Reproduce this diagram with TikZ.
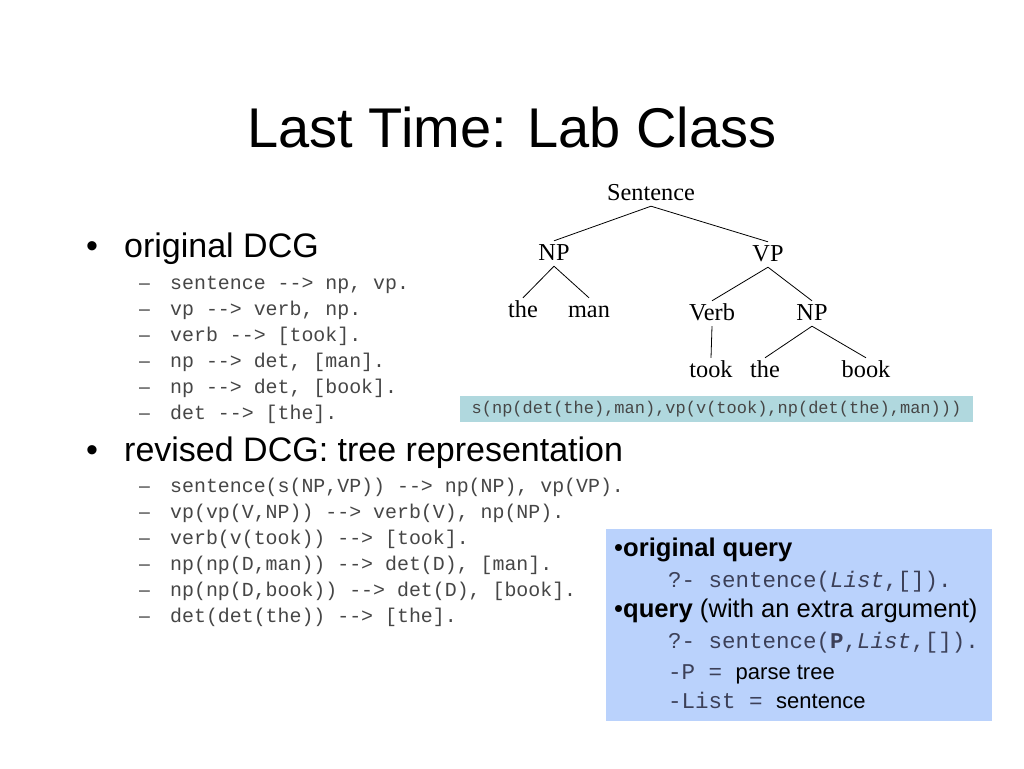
\documentclass[tikz,border=0pt]{standalone}
\usepackage{fontspec}
\setmainfont{Liberation Sans}
\newfontfamily\treefont{Liberation Serif}
\newfontfamily\codefont{Liberation Mono}
\definecolor{tealbox}{RGB}{176,216,222}
\definecolor{querybox}{RGB}{186,210,252}
\definecolor{codegray}{RGB}{70,70,70}
\definecolor{codeblue}{RGB}{60,64,88}

\begin{document}
\begin{tikzpicture}[x=1pt,y=-1pt]
    \fill[white] (0,0) rectangle (1024,768);
    \useasboundingbox (0,0) rectangle (1024,768);
    \tikzset{title/.style = {
        anchor=base,
        inner sep=0pt,
        font=\fontsize{56}{60}\selectfont } }
    \tikzset{bigtext/.style = {
        anchor=base west,
        inner sep=0pt,
        font=\fontsize{34}{40}\selectfont } }
    \tikzset{dashmark/.style = {
        anchor=base west,
        inner sep=0pt,
        text=codegray,
        font=\fontsize{19.5}{22}\selectfont } }
    \tikzset{codeline/.style = {
        anchor=base west,
        inner sep=0pt,
        text=codegray,
        font=\codefont\fontsize{19.9}{22}\selectfont } }
    \tikzset{tnode/.style = {
        anchor=base,
        inner sep=2pt,
        text height=17pt,
        text depth=4pt,
        font=\treefont\fontsize{24.3}{28}\selectfont } }
    \tikzset{tedge/.style = {
        draw=black,
        line width=0.8pt} }
    \tikzset{parsebox/.style = {
        fill=tealbox,
        inner sep=0pt,
        minimum width=513pt,
        minimum height=26pt,
        text=codegray,
        font=\codefont\fontsize{17}{20}\selectfont } }
    \tikzset{qbox/.style = {
        fill=querybox,
        inner sep=0pt,
        minimum width=386pt,
        minimum height=192pt } }
    \tikzset{qline/.style = {
        anchor=base west,
        inner sep=0pt,
        font=\fontsize{25.6}{30}\selectfont } }
    \tikzset{qcode/.style = {
        anchor=base west,
        inner sep=0pt,
        text=codeblue,
        font=\codefont\fontsize{22.5}{26}\selectfont } }

    % title
    \node[title] (title) at (512,147) {Last Time: Lab Class};

    % original DCG
    \node[bigtext] (b1) at (86,257) {\textbullet};
    \node[bigtext] (orig) at (124,257) {original DCG};
    \foreach \y/\t [count=\i] in {289/{sentence -{}-> np, vp.},
                                  315/{vp -{}-> verb, np.},
                                  341/{verb -{}-> [took].},
                                  367/{np -{}-> det, [man].},
                                  393/{np -{}-> det, [book].},
                                  419/{det -{}-> [the].}}{
        \node[dashmark] (od\i) at (139,\y) {–};
        \node[codeline] (oc\i) at (170,\y) {\t};
    }

    % revised DCG
    \node[bigtext] (b2) at (86,461) {\textbullet};
    \node[bigtext] (rev) at (124,461) {revised DCG: tree representation};
    \foreach \y/\t [count=\i] in {492/{sentence(s(NP,VP)) -{}-> np(NP), vp(VP).},
                                  518/{vp(vp(V,NP)) -{}-> verb(V), np(NP).},
                                  544/{verb(v(took)) -{}-> [took].},
                                  570/{np(np(D,man)) -{}-> det(D), [man].},
                                  596/{np(np(D,book)) -{}-> det(D), [book].},
                                  622/{det(det(the)) -{}-> [the].}}{
        \node[dashmark] (rd\i) at (139,\y) {–};
        \node[codeline] (rc\i) at (170,\y) {\t};
    }

    % parse tree
    \node[tnode] (sent) at (651,200) {Sentence};
    \node[tnode] (np) at (554,260) {NP};
    \node[tnode] (vp) at (768,261) {VP};
    \node[tnode] (the) at (523,317) {the};
    \node[tnode] (man) at (589,317) {man};
    \node[tnode] (verb) at (712,320) {Verb};
    \node[tnode] (npb) at (812,320) {NP};
    \node[tnode] (took) at (711,377) {took};
    \node[tnode] (theb) at (765,377) {the};
    \node[tnode] (book) at (866,377) {book};
    \foreach \a/\b in {sent/np, sent/vp, np/the, np/man, vp/verb, vp/npb, verb/took, npb/theb, npb/book}{
        \path[tedge] (\a.south) edge (\b.north);
    }
    \node[parsebox] (parse) at (716.5,409) {s(np(det(the),man),vp(v(took),np(det(the),man)))};

    % queries
    \node[qbox] (query) at (799,625) {};
    \node[qline] (q1) at (614,556) {\textbullet\textbf{original query}};
    \node[qcode] (q2) at (668,587) {?- sentence(\textit{List},[]).};
    \node[qline] (q3) at (614,617) {\textbullet\textbf{query} (with an extra argument)};
    \node[qcode] (q4) at (668,648) {?- sentence(\textbf{P},\textit{List},[]).};
    \node[qcode] (q5) at (668,679) {-P = {\rmfamily\fontsize{22}{26}\selectfont\color{black}parse tree}};
    \node[qcode] (q6) at (668,708) {-List = {\rmfamily\fontsize{22}{26}\selectfont\color{black}sentence}};
\end{tikzpicture}
\end{document}
